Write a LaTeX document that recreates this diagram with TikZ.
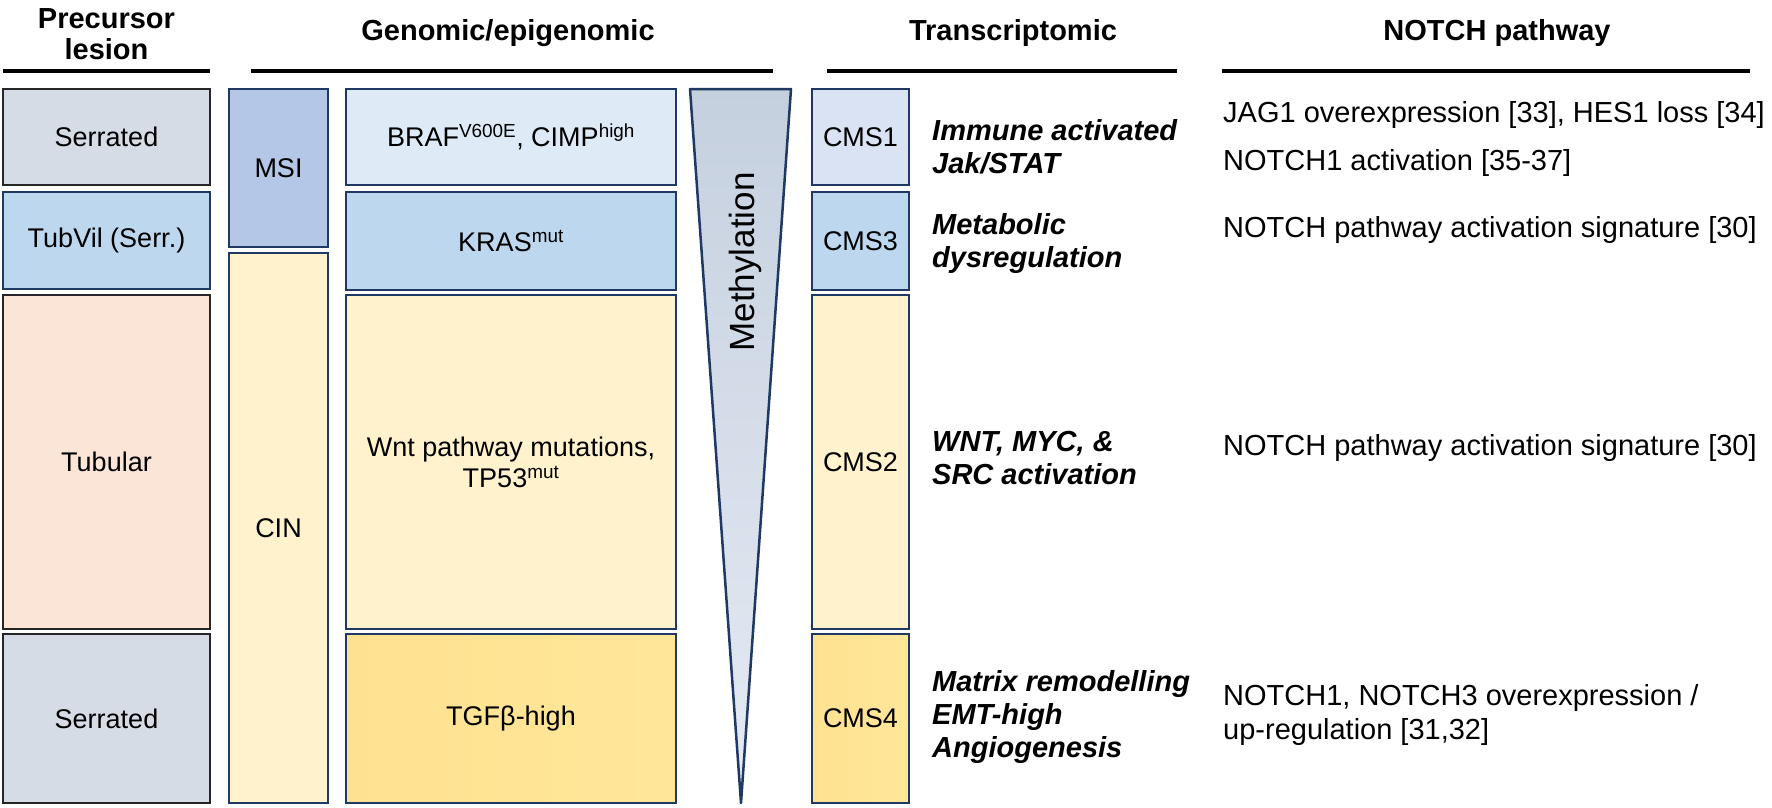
\documentclass[tikz,border=0pt]{standalone}
\usepackage{fontspec}
\setmainfont{Liberation Sans}
\definecolor{navy}{HTML}{1F3864}
\definecolor{greyblue}{HTML}{D6DCE5}
\definecolor{lblue}{HTML}{BDD7EE}
\definecolor{peach}{HTML}{FBE5D6}
\definecolor{msiblue}{HTML}{B4C7E7}
\definecolor{cream}{HTML}{FFF2CC}
\definecolor{paleblue}{HTML}{DEEBF7}
\definecolor{gold}{HTML}{FFE699}
\definecolor{goldl}{HTML}{FFE291}
\definecolor{cmsone}{HTML}{DAE3F3}
\definecolor{trtop}{HTML}{C5D0DF}
\definecolor{trbot}{HTML}{E6EBF3}
\begin{document}
\begin{tikzpicture}[x=1pt,y=-1pt,
  box/.style={draw=navy, line width=2.5pt, inner sep=0pt, outer sep=0pt,
    font=\fontsize{27}{31}\selectfont, align=center, text=black},
  pre/.style={box, draw=black!85},
  head/.style={font=\bfseries\fontsize{29}{31}\selectfont, align=center},
  rulestyle/.style={line width=4pt, black},
  desc/.style={font=\bfseries\itshape\fontsize{29}{33}\selectfont, align=left, anchor=west, inner sep=0pt},
  note/.style={font=\fontsize{29}{34}\selectfont, align=left, anchor=west, inner sep=0pt}]
\useasboundingbox (0,0) rectangle (1772,808);

% headers
\node[head] (hpre) at (106.5,34.5) {Precursor\\lesion};
\node[head] (hgen) at (508,33) {Genomic/epigenomic};
\node[head] (htra) at (1013,33) {Transcriptomic};
\node[head] (hnot) at (1497,33) {NOTCH pathway};
\coordinate (r1a) at (3,71);   \coordinate (r1b) at (210,71);
\coordinate (r2a) at (251,71); \coordinate (r2b) at (773,71);
\coordinate (r3a) at (827,71); \coordinate (r3b) at (1177,71);
\coordinate (r4a) at (1222,71);\coordinate (r4b) at (1750,71);
\draw[rulestyle] (r1a) -- (r1b);
\draw[rulestyle] (r2a) -- (r2b);
\draw[rulestyle] (r3a) -- (r3b);
\draw[rulestyle] (r4a) -- (r4b);

% precursor lesion column
\node[pre, fill=greyblue, minimum width=207, minimum height=96] (s1) at (106.5,137) {Serrated};
\node[box, fill=lblue, minimum width=207, minimum height=97] (tv) at (106.5,240.5) {TubVil (Serr.)};
\node[pre, fill=peach, minimum width=207, minimum height=334] (tub) at (106.5,462) {Tubular};
\node[pre, fill=greyblue, minimum width=207, minimum height=169] (s2) at (106.5,718.5) {Serrated};

% MSI / CIN
\node[box, fill=msiblue, minimum width=99, minimum height=158] (msi) at (278.5,168) {MSI};
\node[box, fill=cream, minimum width=99, minimum height=550] (cin) at (278.5,528) {CIN};

% genomic boxes
\node[box, fill=paleblue, minimum width=330, minimum height=96] (braf) at (511,137) {BRAF\textsuperscript{V600E}, CIMP\textsuperscript{high}};
\node[box, fill=lblue, minimum width=330, minimum height=98] (kras) at (511,241) {KRAS\textsuperscript{mut}};
\node[box, fill=cream, minimum width=330, minimum height=334] (wnt) at (511,462) {Wnt pathway mutations,\\TP53\textsuperscript{mut}};
\node[box, left color=goldl, right color=gold, minimum width=330, minimum height=169] (tgf) at (511,718.5) {TGFβ-high};

% methylation triangle
\coordinate (tl) at (690,89);
\coordinate (tr) at (791,89);
\coordinate (tp) at (741,803);
\path[top color=trtop, bottom color=trbot] (tl) -- (tr) -- (tp) -- cycle;
\draw[navy, line width=2.5pt, line join=round] (tl) -- (tr) -- (tp) -- cycle;
\node[rotate=90, font=\fontsize{35}{40}\selectfont] (meth) at (745,262) {Methylation};

% CMS boxes
\node[box, fill=cmsone, minimum width=97, minimum height=96] (c1) at (860.5,137) {CMS1};
\node[box, fill=lblue, minimum width=97, minimum height=98] (c3) at (860.5,241) {CMS3};
\node[box, fill=cream, minimum width=97, minimum height=334] (c2) at (860.5,462) {CMS2};
\node[box, left color=goldl, right color=gold, minimum width=97, minimum height=169] (c4) at (860.5,718.5) {CMS4};

% transcriptomic descriptions
\node[desc] (d1) at (932,147) {Immune activated\\Jak/STAT};
\node[desc] (d3) at (932,243) {Metabolic\\dysregulation};
\node[desc] (d2) at (932,458) {WNT, MYC, \&\\SRC activation};
\node[desc] (d4) at (932,717) {Matrix remodelling\\EMT-high\\Angiogenesis};

% NOTCH pathway notes
\node[note] (n1a) at (1223,115) {JAG1 overexpression [33], HES1 loss [34]};
\node[note] (n1b) at (1223,163) {NOTCH1 activation [35-37]};
\node[note] (n3) at (1223,230) {NOTCH pathway activation signature [30]};
\node[note] (n2) at (1223,448) {NOTCH pathway activation signature [30]};
\node[note] (n4) at (1223,715) {NOTCH1, NOTCH3 overexpression /\\up-regulation [31,32]};
\end{tikzpicture}
\end{document}
